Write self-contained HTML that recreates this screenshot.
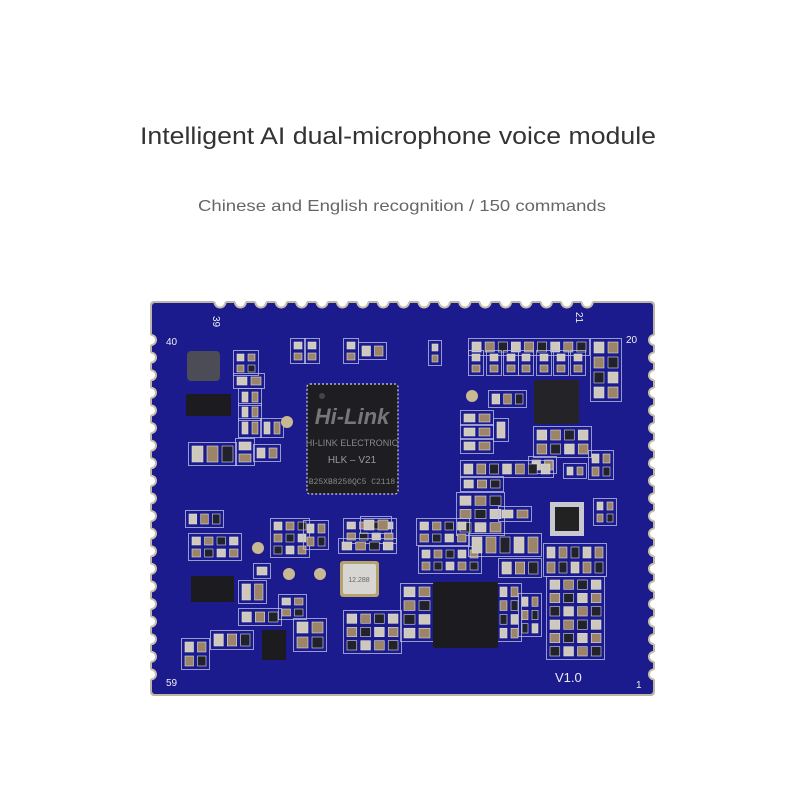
<!DOCTYPE html>
<html><head><meta charset="utf-8"><style>
html,body{margin:0;padding:0;background:#fff;}
svg{display:block}
</style></head><body>
<svg id="s" width="800" height="800" viewBox="0 0 800 800" xmlns="http://www.w3.org/2000/svg">
<rect width="800" height="800" fill="#fff"/>
<text x="398" y="144" text-anchor="middle" font-family="Liberation Sans, sans-serif" font-size="24" fill="#333" textLength="516" lengthAdjust="spacingAndGlyphs">Intelligent AI dual-microphone voice module</text>
<text x="402" y="211" text-anchor="middle" font-family="Liberation Sans, sans-serif" font-size="16" fill="#666" textLength="408" lengthAdjust="spacingAndGlyphs">Chinese and English recognition / 150 commands</text>
<rect x="150" y="301" width="505" height="395" rx="4" fill="#bdb5a5"/>
<rect x="152" y="303" width="501" height="391" rx="3" fill="#1b1b8e"/>
<g id="pins"></g>
<g id="comp"></g>
<!-- main chip -->
<rect x="307" y="384" width="91" height="110" rx="3" fill="#1e1e22" stroke="#cfd0e0" stroke-width="1.2" stroke-dasharray="2 2"/>
<circle cx="322" cy="396" r="3" fill="#444"/>
<text x="352" y="424" text-anchor="middle" font-family="Liberation Sans, sans-serif" font-weight="bold" font-style="italic" font-size="22" fill="#777">Hi-Link</text>
<text x="352" y="446" text-anchor="middle" font-family="Liberation Sans, sans-serif" font-size="9" fill="#888">HI-LINK ELECTRONIC</text>
<text x="352" y="463" text-anchor="middle" font-family="Liberation Sans, sans-serif" font-size="10" fill="#999">HLK – V21</text>
<text x="352" y="484" text-anchor="middle" font-family="Liberation Mono, monospace" font-size="8" fill="#888">B25XB8250QC5  C2118</text>
<!-- crystal -->
<rect x="340" y="561" width="39" height="36" rx="3" fill="#b8a36a"/>
<rect x="343" y="564" width="33" height="30" rx="2" fill="#d8d6d2"/>
<text x="359" y="582" text-anchor="middle" font-family="Liberation Sans, sans-serif" font-size="7" fill="#666">12.288</text>
<!-- SOP -->
<rect x="433" y="582" width="65" height="66" rx="2" fill="#1c1c20"/>
<!-- QFN -->
<rect x="534" y="380" width="45" height="44" rx="2" fill="#232328"/>
<rect x="550" y="502" width="34" height="34" fill="#c8c8d0"/>
<rect x="555" y="507" width="24" height="24" fill="#222"/>
<!-- inductor -->
<rect x="187" y="351" width="33" height="30" rx="4" fill="#4b4c55"/>
<!-- SOT chips -->
<rect x="186" y="394" width="45" height="22" fill="#1c1c20"/>
<rect x="191" y="576" width="43" height="26" fill="#1c1c20"/>
<rect x="262" y="630" width="24" height="30" fill="#1c1c20"/>
<!-- gold dots -->
<g fill="#c9b992">
<circle cx="287" cy="422" r="6"/><circle cx="472" cy="396" r="6"/>
<circle cx="258" cy="548" r="6"/><circle cx="289" cy="574" r="6"/><circle cx="320" cy="574" r="6"/>
</g>
<g font-family="Liberation Sans, sans-serif" fill="#eee">
<text x="166" y="345" font-size="10">40</text>
<text x="212" y="327" font-size="10" transform="rotate(90 218 322)">39</text>
<text x="574" y="322" font-size="10" transform="rotate(90 580 318)">21</text>
<text x="626" y="343" font-size="10">20</text>
<text x="166" y="686" font-size="10">59</text>
<text x="555" y="682" font-size="13">V1.0</text>
<text x="636" y="688" font-size="10">1</text>
</g>
</svg>
<script>
var ns="http://www.w3.org/2000/svg",p=document.getElementById('pins'),c=document.getElementById('comp');
function el(t,a,par){var e=document.createElementNS(ns,t);for(var k in a)e.setAttribute(k,a[k]);par.appendChild(e);return e;}
for(var i=0;i<19;i++){var x=220+i*20.4;el('circle',{cx:x,cy:302,r:5.5,fill:'#fff'},p);el('path',{d:'M'+(x-5.5)+' 302 A5.5 5.5 0 0 0 '+(x+5.5)+' 302',fill:'none',stroke:'#c8bfa8','stroke-width':2},p);}
for(var i=0;i<20;i++){var y=340+i*17.6;
el('circle',{cx:151,cy:y,r:5,fill:'#fff'},p);el('path',{d:'M151 '+(y-5)+' A5 5 0 0 1 151 '+(y+5),fill:'none',stroke:'#c8bfa8','stroke-width':2},p);
el('circle',{cx:654,cy:y,r:5,fill:'#fff'},p);el('path',{d:'M654 '+(y-5)+' A5 5 0 0 0 654 '+(y+5),fill:'none',stroke:'#c8bfa8','stroke-width':2},p);}
var parts=[[292,340,12,22],[306,340,12,22],[345,340,12,22],[360,344,25,14],[430,342,10,22],[470,340,118,14],[470,352,12,22],[488,352,12,22],[505,352,12,22],[520,352,12,22],[538,352,12,22],[555,352,12,22],[572,352,12,22],[592,340,28,60],[235,352,22,22],[235,375,28,12],[240,390,20,14],[240,405,20,14],[240,420,20,16],[262,420,20,16],[190,444,45,20],[237,440,16,24],[255,446,24,14],[490,392,35,14],[462,412,30,12],[462,426,30,12],[462,440,30,12],[495,420,12,20],[535,428,55,28],[530,458,25,14],[565,465,20,12],[590,452,22,26],[462,462,90,14],[462,478,40,12],[458,494,45,40],[500,508,30,12],[595,500,20,24],[187,512,35,14],[190,535,50,24],[272,520,36,36],[305,522,22,26],[345,520,50,22],[362,518,28,14],[418,520,50,24],[420,548,60,24],[340,540,55,12],[470,535,70,20],[500,560,40,16],[545,545,60,30],[548,578,55,80],[402,585,30,55],[498,585,22,55],[520,595,20,40],[240,582,25,20],[280,596,25,22],[295,620,30,30],[240,610,40,14],[183,640,25,28],[212,632,40,16],[345,612,55,40],[255,565,14,12]];
parts.forEach(function(r){
el('rect',{x:r[0]-1.5,y:r[1]-1.5,width:r[2]+3,height:r[3]+3,fill:'none',stroke:'#b8bbe0','stroke-width':0.8},c);
var n=Math.max(1,Math.round(r[2]/13)),m=Math.max(1,Math.round(r[3]/14));
for(var i=0;i<n;i++)for(var j=0;j<m;j++){var w=r[2]/n,h=r[3]/m;
var col=((i+j)%3==0)?'#cfc9bd':((i+j)%3==1)?'#9c8468':'#22222c';
el('rect',{x:r[0]+i*w+2,y:r[1]+j*h+2,width:w-4,height:h-4,fill:col,stroke:'#ddd','stroke-width':0.6},c);}
});
</script>
</body></html>
